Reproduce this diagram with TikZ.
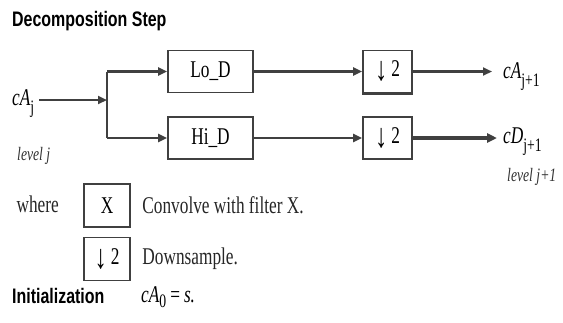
\documentclass[tikz,border=0pt]{standalone}
\usepackage{fontspec}
\setmainfont[FakeStretch=0.72]{Liberation Serif}
\newfontfamily\headfont[FakeStretch=0.76]{Liberation Sans}
\usetikzlibrary{arrows.meta, positioning, calc}
\newcommand\dnarrow{\raisebox{-4pt}{\bfseries\fontsize{34}{34}\selectfont\symbol{"2193}}}
\newcommand\lowidx[1]{\raisebox{-8pt}{\upshape\fontsize{19}{19}\selectfont #1}}

\begin{document}
\begin{tikzpicture}[
  x=1pt, y=-1pt,
  blk/.style={draw=black!75, line width=1.8pt, minimum width=85pt, minimum height=42pt,
              inner sep=0pt, font=\fontsize{24}{28}\selectfont},
  dsbox/.style={blk, minimum width=49pt},
  keybox/.style={blk, minimum width=46pt, minimum height=43pt},
  txt/.style={font=\fontsize{24}{28}\selectfont, text=black!85},
  sig/.style={font=\fontsize{24}{28}\selectfont\itshape, inner sep=0pt},
  lvl/.style={font=\fontsize{19}{22}\selectfont\itshape, text=black!80, inner sep=0pt},
  head/.style={font=\headfont\bfseries\fontsize{21}{24}\selectfont, inner sep=0pt},
  wire/.style={draw=black!75, line width=2.2pt},
  >={Triangle[length=9pt,width=8pt]}
]
\useasboundingbox (0,0) rectangle (563,322);

% --- Title ---
\node[head, anchor=base west] (title) at (12,26) {Decomposition Step};

% --- Filters and downsamplers ---
\node[blk] (lo) at (210.5,71.5) {Lo\_D};
\node[blk] (hi) at (210.5,138) {Hi\_D};
\node[dsbox] (dsA) at (387.5,71.5) {\dnarrow\,2};
\node[dsbox] (dsD) at (387.5,138) {\dnarrow\,2};
\draw[black!75, line width=3.5pt] (dsA.south west) -- (dsA.south east);

% --- Signals ---
\node[sig, anchor=base west] (cAj) at (12,105) {cA\lowidx{j}};
\node[sig, anchor=base west] (cAn) at (503,78) {cA\lowidx{j+1}};
\node[sig, anchor=base west] (cDn) at (503,143) {cD\lowidx{j+1}};
\node[lvl, anchor=base west] (lvlj) at (17,160) {level j};
\node[lvl, anchor=base west] (lvln) at (507,181) {level j+1};
\coordinate (split) at (107,100);

% === Arrows ===
\draw[wire, ->] ($(split -| cAj.east)+(5,0)$) -- (split);
\draw[wire] (split |- lo) -- (split |- hi);
\draw[wire, ->] (split |- lo) -- (lo);
\draw[wire, ->] (split |- hi) -- (hi);
\draw[wire, ->] (lo) -- (dsA);
\draw[wire, ->] (hi) -- (dsD);
\draw[wire, ->] (dsA.east) -- ($(dsA.east -| cAn.west)+(-11,0)$);
\draw[wire, line width=3.5pt, -{Triangle[length=10pt,width=9pt]}]
  (dsD.east) -- ($(dsD.east -| cDn.west)+(-6,0)$);

% === Legend ===
\node[txt, anchor=base west] (where) at (13,212) {where};
\node[keybox] (keyX) at (107,205.5) {X};
\node[keybox] (keyDs) at (107,259) {\dnarrow\,2};
\node[txt, right=8pt of keyX] (convTxt) {Convolve with filter X.};
\node[txt, right=8pt of keyDs] (dsTxt) {Downsample.};

% === Initialization ===
\node[head, anchor=base west] (init) at (12,303) {Initialization};
\node[sig, anchor=base west] (initEq) at (141,302)
  {cA\raisebox{-5pt}{\upshape\fontsize{19}{19}\selectfont 0}\upshape\,=\,\itshape s.};

\end{tikzpicture}
\end{document}
